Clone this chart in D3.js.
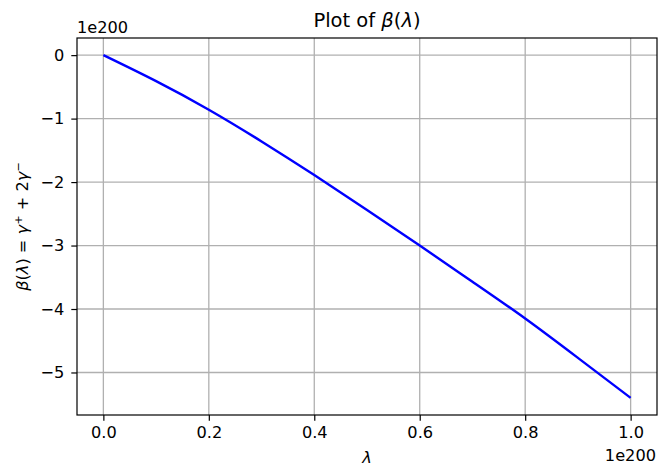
<!DOCTYPE html>
<html>
<head>
  <meta charset="utf-8">
  <script src="https://d3js.org/d3.v7.min.js"></script>
  <style>
    body { margin: 0; background: #fff; }
    svg { font-family: "DejaVu Sans", sans-serif; }
    .grid line { stroke: #b0b0b0; stroke-width: 1.3; }
  </style>
</head>
<body>
<script>
  "use strict";

  // lambda values (in units of 1e200) and beta values
  var lambdaVals = [0, 0.1, 0.2, 0.3, 0.4, 0.5, 0.6, 0.7, 0.8, 0.9, 1.0];
  var betaVals = [0, -0.41, -0.86, -1.36, -1.89, -2.44, -3.0, -3.57, -4.15, -4.77, -5.4];
  var xTicks = [0, 0.2, 0.4, 0.6, 0.8, 1.0];
  var yTicks = [0, -1, -2, -3, -4, -5];

  var W = 660, H = 472;
  var axLeft = 77, axRight = 657, axTop = 38, axBottom = 415;
  var fs = "16.2px";

  var svg = d3.select("body").append("svg")
      .attr("width", W)
      .attr("height", H);

  // matplotlib style 5% margins
  var x = d3.scaleLinear().domain([-0.05, 1.05]).range([axLeft, axRight]);
  var y = d3.scaleLinear().domain([-5.67, 0.27]).range([axBottom, axTop]);

  var minus = function (s) { return s.replace("-", "\u2212"); };

  // grid
  var grid = svg.append("g").attr("class", "grid");
  grid.selectAll(".gx").data(xTicks).enter().append("line")
      .attr("x1", function (d) { return x(d); })
      .attr("x2", function (d) { return x(d); })
      .attr("y1", axTop).attr("y2", axBottom);
  grid.selectAll(".gy").data(yTicks).enter().append("line")
      .attr("y1", function (d) { return y(d); })
      .attr("y2", function (d) { return y(d); })
      .attr("x1", axLeft).attr("x2", axRight);

  // the curve
  var pts = lambdaVals.map(function (l, i) { return [l, betaVals[i]]; });
  svg.append("path")
      .datum(pts)
      .attr("fill", "none")
      .attr("stroke", "#0000ff")
      .attr("stroke-width", 2.4)
      .attr("d", d3.line()
        .curve(d3.curveNatural)
        .x(function (d) { return x(d[0]); })
        .y(function (d) { return y(d[1]); }));

  // axes
  var xAxis = d3.axisBottom(x).tickValues(xTicks)
      .tickFormat(d3.format(".1f")).tickSize(5.7).tickPadding(5.5).tickSizeOuter(0);
  var yAxis = d3.axisLeft(y).tickValues(yTicks)
      .tickFormat(function (d) { return minus(String(d)); })
      .tickSize(5.7).tickPadding(7).tickSizeOuter(0);

  var gx = svg.append("g").attr("transform", "translate(0," + axBottom + ")").call(xAxis);
  var gy = svg.append("g").attr("transform", "translate(" + axLeft + ",0)").call(yAxis);
  [gx, gy].forEach(function (g) {
    g.select(".domain").remove();
    g.selectAll("line").attr("stroke", "#000").attr("stroke-width", 1.2);
    g.selectAll("text").attr("fill", "#000")
      .style("font-family", "DejaVu Sans, sans-serif").style("font-size", fs);
  });

  // frame
  svg.append("rect")
      .attr("x", axLeft).attr("y", axTop)
      .attr("width", axRight - axLeft).attr("height", axBottom - axTop)
      .attr("fill", "none").attr("stroke", "#000").attr("stroke-width", 1.2);

  // title
  var title = svg.append("text")
      .attr("x", (axLeft + axRight) / 2).attr("y", 27)
      .attr("text-anchor", "middle")
      .style("font-size", "19.5px");
  title.append("tspan").text("Plot of ");
  title.append("tspan").attr("font-style", "italic").text("\u03b2");
  title.append("tspan").text("(");
  title.append("tspan").attr("font-style", "italic").text("\u03bb");
  title.append("tspan").text(")");

  // offset texts
  svg.append("text").attr("x", axLeft).attr("y", 33)
      .style("font-size", fs).text("1e200");
  svg.append("text").attr("x", axRight - 1).attr("y", 461)
      .attr("text-anchor", "end")
      .style("font-size", fs).text("1e200");

  // x label
  svg.append("text").attr("x", (axLeft + axRight) / 2).attr("y", 463)
      .attr("text-anchor", "middle")
      .style("font-size", fs).attr("font-style", "italic").text("\u03bb");

  // y label
  var yl = svg.append("text")
      .attr("transform", "translate(28," + (axTop + axBottom) / 2 + ") rotate(-90)")
      .attr("text-anchor", "middle")
      .style("font-size", fs);
  yl.append("tspan").attr("font-style", "italic").text("\u03b2");
  yl.append("tspan").text("(");
  yl.append("tspan").attr("font-style", "italic").text("\u03bb");
  yl.append("tspan").text(") = ");
  yl.append("tspan").attr("font-style", "italic").text("\u03b3");
  yl.append("tspan").attr("dy", -6).style("font-size", "11.3px").text("+");
  yl.append("tspan").attr("dy", 6).text(" + 2");
  yl.append("tspan").attr("font-style", "italic").text("\u03b3");
  yl.append("tspan").attr("dy", -6).style("font-size", "11.3px").text("\u2212");
</script>
</body>
</html>
